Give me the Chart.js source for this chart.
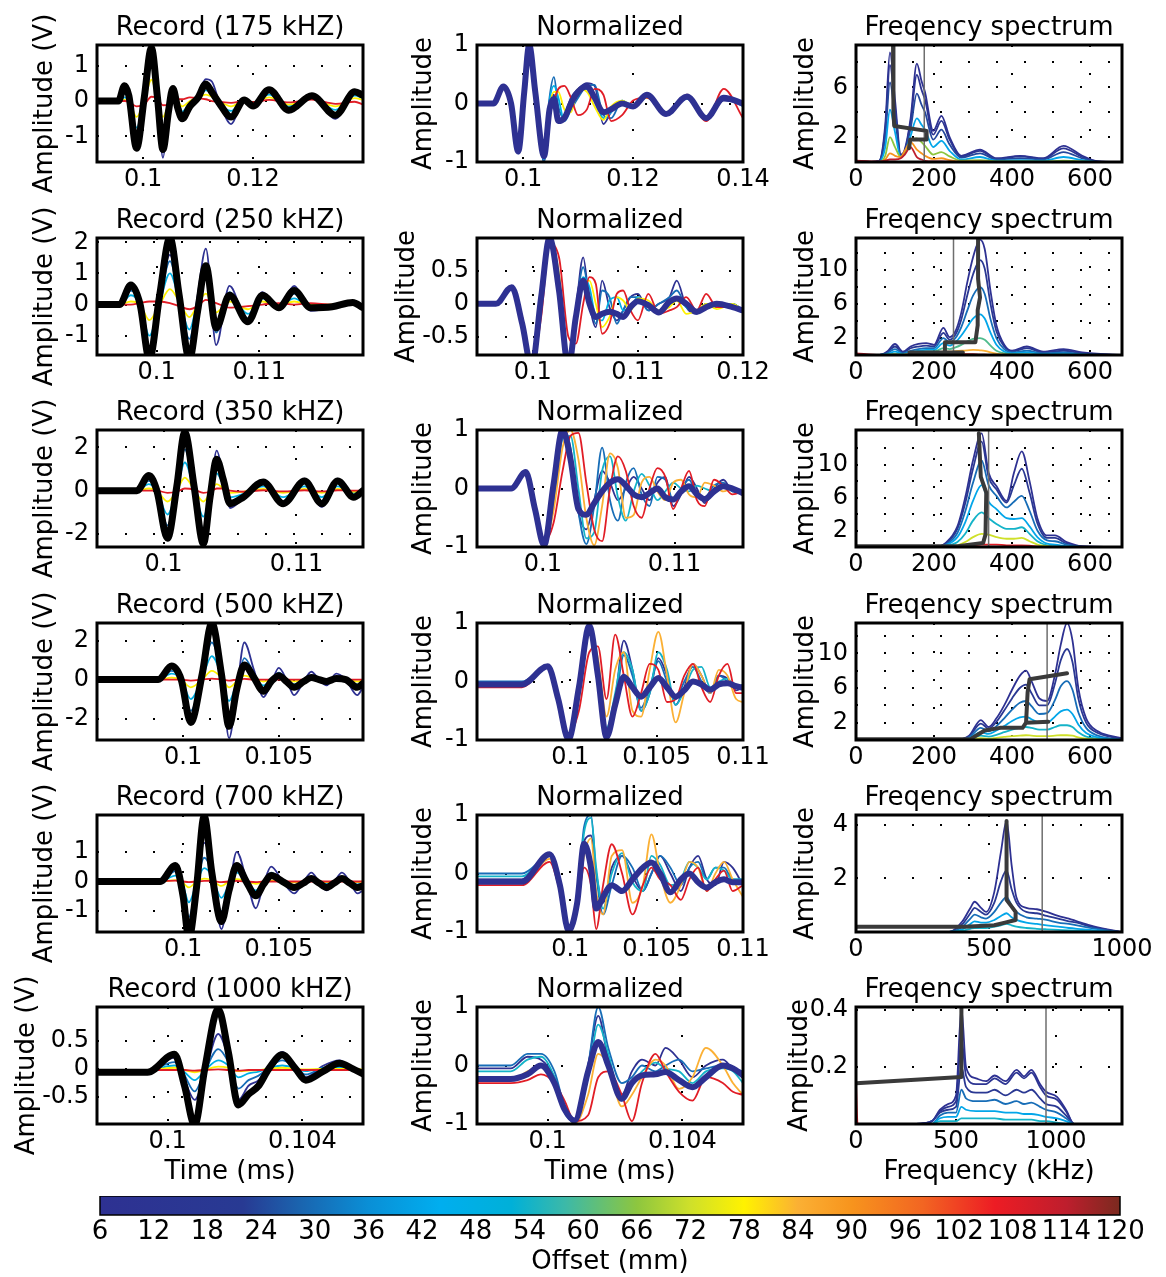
<!DOCTYPE html>
<html>
<head>
<meta charset="utf-8">
<script src="https://cdn.jsdelivr.net/npm/chart.js@4.4.0/dist/chart.umd.min.js"></script>
<style>
  body { margin: 0; background: #fff; }
  #fig { position: relative; width: 1166px; height: 1277px; overflow: hidden; background: #fff; }
  #fig canvas { position: absolute; }
</style>
</head>
<body>
<div id="fig"></div>
<script>
// ---------- data ----------
// offsets (mm) shown on the colour bar
const offsetTicks = [6, 12, 18, 24, 30, 36, 42, 48, 54, 60, 66, 72, 78, 84, 90, 96, 102, 108, 114, 120];
// nominal frequency marker in each spectrum (kHz)
const markerKHz = [175, 250, 340, 490, 700, 950];

// Row 1 : 175 kHz
const rec175_t = [0.0916,0.0955,0.0966,0.0974,0.0988,0.1002,0.1015,0.1026,0.1036,0.1046,0.1054,0.1063,0.1071,0.1085,0.1100,0.1114,0.1125,0.1138,0.1160,0.1184,0.1200,0.1229,0.1265,0.1307,0.1350,0.1385,0.1400];
const rec175_ref = [0,0,0.43,0.15,-1.33,0.1,1.5,0.1,-1.37,-0.3,0.35,-0.2,-0.5,-0.15,0.1,0.48,0.25,-0.05,-0.45,0.03,-0.14,0.32,-0.26,0.15,-0.4,0.26,0.16];
const rec175_6 = [0,0,0.4,0.15,-1.35,0.15,1.45,0.15,-1.6,-0.3,0.4,-0.1,-0.55,-0.1,0.2,0.62,0.55,0,-0.65,0.05,-0.15,0.35,-0.32,0.2,-0.5,0.3,0.12];
const rec175_30 = [0,0,0.2,0.05,-1.0,0.1,1.25,0.12,-1.1,-0.2,0.3,-0.05,-0.4,-0.08,0.15,0.45,0.35,-0.05,-0.4,0.05,-0.1,0.25,-0.22,0.12,-0.35,0.2,0.1];
const rec175_48 = [0,0,0.1,0,-0.75,0.05,1.0,0.1,-0.8,-0.15,0.2,0,-0.3,-0.05,0.1,0.3,0.25,-0.05,-0.28,0.03,-0.08,0.18,-0.15,0.1,-0.25,0.15,0.08];
const rec175_78 = [0,0,0.03,0,-0.45,0,0.6,0.05,-0.45,-0.1,0.1,0,-0.15,0,0.1,0.18,0.12,0,-0.15,0.02,-0.05,0.1,-0.1,0.06,-0.15,0.08,0.03];
const rec175_108 = [0,0,0,-0.02,-0.15,-0.1,0.12,0.08,-0.12,-0.1,0,0.05,0.05,0.1,0.08,0.05,0,-0.02,-0.05,0,-0.03,0.03,-0.04,0.04,-0.08,-0.02,-0.1];

const nrm175_t = [0.0916,0.0946,0.0964,0.0978,0.0991,0.1002,0.1011,0.1022,0.1038,0.1048,0.1056,0.1064,0.1075,0.1087,0.1100,0.1116,0.1130,0.1146,0.1160,0.1180,0.1200,0.1225,0.1260,0.1298,0.1333,0.1365,0.1400];
const nrm175_ref = [0,0,0.29,0,-0.82,0.2,1.0,0.2,-0.9,-0.1,0.08,-0.3,-0.25,0,0.2,0.29,0.1,-0.15,-0.1,0,-0.05,0.15,-0.18,0.12,-0.25,0.1,0];
const nrm175_6 = [0,0,0.28,0,-0.85,0.2,0.95,0.25,-1.0,0.05,0.15,-0.3,-0.2,0.1,0.25,0.35,0.3,-0.35,-0.15,0,-0.05,0.12,-0.15,0.1,-0.28,0.05,0];
const nrm175_30 = [0,0,0.27,0,-0.85,0.15,1.0,0.3,-1.0,0.1,0.45,-0.05,-0.25,-0.1,0.1,0.3,0.32,-0.2,-0.25,0.05,-0.08,0.12,-0.15,0.08,-0.25,0.1,-0.05];
const nrm175_48 = [0,0,0.27,0,-0.85,0.1,1.0,0.3,-0.95,0.05,0.3,0.1,-0.3,-0.1,0.15,0.25,0.1,-0.25,-0.15,0.05,-0.05,0.1,-0.15,0.1,-0.22,0.08,0];
const nrm175_78 = [0,0,0.26,0,-0.82,0.05,1.0,0.35,-0.9,-0.05,0.2,0.2,-0.1,-0.15,0.25,0.2,-0.05,-0.28,-0.05,0.05,-0.05,0.1,-0.15,0.12,-0.25,0.12,0];
const nrm175_108 = [0,0,0.25,0,-0.8,0,0.98,0.4,-0.8,-0.2,0.05,0.25,0.3,0.1,-0.2,-0.1,0.25,0.15,-0.3,-0.2,0.05,0.1,-0.2,0.15,-0.3,0.25,-0.25];

const spc175_f = [0,40,60,75,87,100,115,125,140,156,168,177,198,219,240,270,318,360,421,480,532,580,620,682];
const spc175_6 = [0.1,0,0.1,3,8.8,5,0.6,1.0,3.5,7.9,6.5,5.6,2.5,3.7,2.0,0.5,1.0,0.3,0.5,0.3,1.3,0.5,0.05,0];
const spc175_12 = [0,0,0.1,2.6,7.8,4.4,0.5,0.9,3.2,7.0,5.8,5.0,2.2,3.3,1.8,0.45,0.9,0.25,0.45,0.25,1.1,0.4,0.04,0];
const spc175_24 = [0,0,0.1,2.0,6.4,3.6,0.45,0.8,2.7,5.5,4.6,4.0,1.8,2.6,1.4,0.35,0.7,0.2,0.3,0.2,0.8,0.3,0.03,0];
const spc175_42 = [0,0,0.05,1.2,4.2,2.4,0.4,0.7,2.1,3.5,3.0,2.6,1.2,1.7,0.9,0.2,0.4,0.1,0.15,0.1,0.4,0.15,0,0];
const spc175_66 = [0,0,0,0.5,2.0,1.2,0.4,0.8,1.7,1.9,1.6,1.3,0.6,0.8,0.45,0.1,0.15,0.05,0.05,0.03,0.1,0.05,0,0];
const spc175_90 = [0,0,0,0.2,0.7,0.5,0.4,0.9,1.6,1.0,0.7,0.5,0.25,0.3,0.15,0.03,0.05,0,0,0,0,0,0,0];
const spc175_114 = [0.1,0.05,0.05,0.1,0.2,0.2,0.3,0.6,1.2,0.4,0.2,0.1,0.05,0.05,0.02,0,0,0,0,0,0,0,0,0];
const trace175_f = [95,95,97,98,181,181,139,136];
const trace175_v = [9.4,6,4,2.9,2.5,1.8,1.8,1.1];

// Row 2 : 250 kHz
const rec250_t = [0.0942,0.0964,0.0975,0.0984,0.0993,0.1003,0.1013,0.1022,0.1032,0.1040,0.1048,0.1058,0.1071,0.1089,0.1103,0.1119,0.1134,0.1150,0.1171,0.1191,0.1201];
const rec250_ref = [0,0,0.63,0,-1.75,0.3,2.15,0.3,-1.75,-0.2,1.25,-0.75,0.3,-0.55,0.3,-0.1,0.45,-0.1,-0.07,0.07,-0.1];
const rec250_6 = [0,0,0.6,0,-1.7,0.2,1.6,0.3,-1.4,0.3,1.8,-1.3,0.6,-0.6,0.4,-0.1,0.6,-0.2,-0.1,0.1,-0.1];
const rec250_30 = [0,0,0.45,0,-1.4,0.1,1.4,0.2,-1.1,0.2,1.2,-0.9,0.4,-0.45,0.25,-0.1,0.35,-0.15,-0.05,0.05,-0.05];
const rec250_48 = [0,0,0.3,0,-1.0,0.05,1.0,0.15,-0.8,0.1,0.8,-0.6,0.3,-0.3,0.2,-0.05,0.2,-0.1,-0.05,0.03,-0.05];
const rec250_78 = [0,0,0.1,0,-0.5,0,0.5,0.1,-0.4,0,0.35,-0.25,0.1,-0.15,0.1,0,0.1,0,0,0.02,0];
const rec250_108 = [0,0,0,0.05,0.1,0.1,0.05,-0.05,-0.15,-0.05,0.15,0.05,-0.1,-0.05,0,0.05,0,0.05,0,0,-0.02];

const nrm250_t = [0.0947,0.0965,0.0980,0.0990,0.0999,0.1008,0.1016,0.1025,0.1034,0.1041,0.1048,0.1054,0.1060,0.1066,0.1073,0.1080,0.1086,0.1093,0.1100,0.1110,0.1120,0.1130,0.1137,0.1146,0.1156,0.1165,0.1175,0.1190,0.1200];
const nrm250_ref = [0,0,0.25,-0.3,-0.95,0.1,0.99,0.2,-0.95,-0.2,0.35,0,-0.2,-0.15,-0.12,-0.15,-0.2,-0.05,0.04,-0.02,-0.13,0.03,0.08,0,-0.12,-0.05,0,-0.05,-0.1];
const nrm250_6 = [0,0,0.25,-0.3,-0.95,0.1,0.99,0.25,-0.95,-0.1,0.7,0,-0.35,0.35,-0.05,-0.25,-0.1,0.1,0.15,-0.1,0,0.1,0.35,-0.05,-0.15,0,-0.05,0,-0.1];
const nrm250_30 = [0,0,0.25,-0.3,-0.95,0.1,0.99,0.3,-0.95,-0.1,0.55,0.1,-0.3,0.2,0.1,-0.3,-0.1,0.1,0.1,-0.1,0,0.1,0.2,-0.05,-0.12,0,-0.05,0,-0.1];
const nrm250_48 = [0,0,0.25,-0.3,-0.95,0.05,0.99,0.35,-0.9,-0.25,0.4,0.25,-0.2,-0.25,0.05,0.1,-0.1,-0.05,0.1,-0.05,-0.1,0.05,0.1,-0.05,-0.1,0,-0.05,0,-0.1];
const nrm250_78 = [0,0,0.25,-0.3,-0.95,0,0.98,0.45,-0.85,-0.35,0.3,0.35,0,-0.35,-0.2,0.1,0.05,-0.1,0.08,0.05,-0.1,-0.05,0.05,-0.15,-0.1,0,-0.08,0,-0.1];
const nrm250_108 = [0,0,0.22,-0.2,-0.9,-0.2,0.9,0.7,-0.5,-0.6,0,0.4,0.3,-0.45,-0.3,0.15,0.2,-0.1,-0.25,0.15,-0.15,-0.1,-0.05,0.1,-0.1,0.15,-0.05,-0.05,-0.1];

const spc250_f = [0,60,80,100,120,140,160,180,200,224,240,255,270,285,300,318,330,345,360,380,400,438,480,532,580,682];
const spc250_6 = [0,0,0.4,1.3,0.4,1.0,1.3,1.4,1.2,3.2,2.1,2.8,5.0,8.5,11.5,13.6,12.5,7.5,3.5,1.2,0.5,1.0,0.4,0.7,0.3,0];
const spc250_18 = [0,0,0.3,1.0,0.3,0.8,1.0,1.1,1.0,2.6,1.8,2.4,4.2,7.0,9.5,11.2,10.2,6.0,2.8,1.0,0.4,0.8,0.3,0.5,0.2,0];
const spc250_30 = [0,0,0.2,0.7,0.2,0.5,0.7,0.8,0.8,2.0,1.5,2.0,3.3,5.2,7.0,8.0,7.2,4.2,2.0,0.7,0.3,0.5,0.2,0.3,0.1,0];
const spc250_42 = [0,0,0.1,0.4,0.1,0.3,0.5,0.6,0.6,1.4,1.1,1.5,2.3,3.3,4.3,4.8,4.3,2.6,1.2,0.4,0.2,0.3,0.1,0.15,0.05,0];
const spc250_60 = [0,0,0.05,0.15,0.05,0.2,0.3,0.4,0.4,0.8,0.7,0.9,1.2,1.6,1.9,2.0,1.8,1.1,0.5,0.2,0.1,0.1,0,0.05,0,0];
const spc250_84 = [0,0,0,0.05,0,0.1,0.2,0.3,0.3,0.4,0.4,0.45,0.5,0.55,0.6,0.55,0.5,0.3,0.15,0.05,0,0,0,0,0,0];
const spc250_114 = [0.2,0,0,0,0,0.05,0.1,0.15,0.2,0.25,0.25,0.2,0.15,0.1,0.1,0.05,0.05,0,0,0,0,0,0,0,0,0];
const trace250_f = [313,313,318,312,312,306,228,228,137,274];
const trace250_v = [13.8,9,6.8,5.3,3.5,1.5,1.5,0.3,0.3,0.3];

// Row 3 : 350 kHz
const rec350_t = [0.0950,0.0980,0.0989,0.0995,0.1003,0.1010,0.1016,0.1023,0.1030,0.1035,0.1040,0.1045,0.1050,0.1060,0.1075,0.1090,0.1106,0.1119,0.1131,0.1143,0.1150];
const rec350_ref = [0,0,0.7,0,-2.2,0.2,2.7,0.2,-2.45,-0.3,1.45,0.5,-0.6,-0.3,0.4,-0.6,0.45,-0.6,0.45,-0.3,0];
const rec350_6 = [0,0,0.65,0,-2.1,0.2,2.5,0.2,-2.7,-0.4,1.85,0.6,-0.8,-0.35,0.45,-0.7,0.55,-0.75,0.55,-0.3,0];
const rec350_30 = [0,0,0.45,0,-1.6,0.1,1.9,0.15,-1.8,-0.3,1.2,0.4,-0.5,-0.25,0.3,-0.5,0.35,-0.5,0.35,-0.2,0];
const rec350_48 = [0,0,0.3,0,-1.1,0.05,1.3,0.1,-1.2,-0.2,0.8,0.25,-0.3,-0.15,0.2,-0.3,0.2,-0.3,0.2,-0.1,0];
const rec350_78 = [0,0,0.1,0,-0.5,0,0.6,0.05,-0.5,-0.1,0.3,0.1,-0.1,-0.05,0.08,-0.1,0.08,-0.1,0.08,-0.05,0];
const rec350_108 = [0,0,0,0,-0.1,-0.05,0.1,0.05,-0.1,-0.05,0.1,0.1,0,-0.05,0.02,-0.03,0.02,-0.03,0.02,0,0];

const nrm350_t = [0.0950,0.0976,0.0987,0.0994,0.1001,0.1008,0.1015,0.1021,0.1027,0.1033,0.1039,0.1045,0.1051,0.1057,0.1063,0.1069,0.1075,0.1081,0.1087,0.1093,0.1099,0.1105,0.1111,0.1117,0.1123,0.1130,0.1137,0.1144,0.1152];
const nrm350_ref = [0,0,0.28,-0.35,-0.97,0.05,1.0,0.5,-0.35,-0.45,-0.25,-0.05,0.1,0.16,0.05,-0.1,-0.15,-0.08,0,-0.15,-0.19,-0.05,0.04,-0.1,-0.18,-0.05,0.04,0,-0.08];
const nrm350_6 = [0,0,0.28,-0.35,-0.97,0.05,1.0,0.55,-0.4,-0.7,-0.2,0.3,0.1,-0.2,0,0.2,0,-0.2,0.1,0.2,-0.3,-0.1,0.2,0,-0.25,0,0.15,-0.05,-0.08];
const nrm350_30 = [0,0,0.28,-0.35,-0.97,-0.05,0.98,0.7,-0.4,-0.95,-0.3,0.7,-0.2,-0.55,0.1,0.35,-0.1,-0.3,0.2,0.15,-0.2,0,0.15,-0.1,-0.15,0.05,0.1,-0.05,-0.05];
const nrm350_54 = [0,0,0.28,-0.33,-0.95,-0.25,0.85,0.9,0,-0.85,-0.75,0.3,0.55,-0.15,-0.55,-0.05,0.25,0.05,-0.2,-0.05,0.1,0,-0.05,0.05,0,-0.05,0.05,0,-0.05];
const nrm350_84 = [0,0,0.27,-0.3,-0.93,-0.4,0.7,1.0,0.5,-0.5,-0.97,-0.3,0.6,0.35,-0.5,-0.45,0.1,0.2,-0.05,-0.2,0.1,0.15,-0.1,-0.15,0.1,0.05,-0.05,0,-0.05];
const nrm350_108 = [0,0,0.25,-0.25,-0.9,-0.6,0.3,0.9,0.95,0.1,-0.7,-0.9,0,0.55,0.3,-0.3,-0.5,0,0.35,0.2,-0.35,0,0.3,-0.2,-0.3,0.15,0.05,-0.1,-0.05];

const spc350_f = [0,200,230,260,280,300,322,340,360,386,405,425,445,465,490,510,540,580,682];
const spc350_6 = [0,0,0.5,2.5,6.0,10.5,13.8,9.0,7.4,5.6,9.0,11.6,8.0,3.5,1.4,1.4,0.6,0.1,0];
const spc350_18 = [0,0,0.4,2.2,5.3,9.5,12.8,8.5,7.0,5.4,7.5,9.5,6.6,2.9,1.1,1.1,0.4,0.05,0];
const spc350_30 = [0,0,0.3,1.7,4.3,7.8,10.5,7.5,6.2,4.8,5.5,6.2,4.4,2.0,0.8,0.7,0.3,0,0];
const spc350_42 = [0,0,0.2,1.2,3.0,5.6,7.5,5.5,4.6,3.5,3.4,3.5,2.5,1.2,0.4,0.3,0.1,0,0];
const spc350_54 = [0,0,0.1,0.6,1.6,3.2,4.2,3.5,2.8,2.2,2.2,2.4,1.6,0.7,0.2,0.1,0,0,0];
const spc350_72 = [0,0,0.05,0.2,0.6,1.2,1.6,1.5,1.2,1.0,1.0,1.1,0.7,0.3,0.1,0,0,0,0];
const spc350_108 = [0,0,0,0.05,0.1,0.2,0.3,0.3,0.3,0.2,0.2,0.2,0.15,0.05,0,0,0,0,0];
const trace350_f = [0,261,326,332,334,320,315];
const trace350_v = [0.1,0.1,0.5,1.5,6.6,8.5,13.8];

// Row 4 : 500 kHz
const rec500_t = [0.0955,0.0987,0.0994,0.0999,0.1004,0.1010,0.1015,0.1020,0.1024,0.1028,0.1032,0.1037,0.1042,0.1046,0.1050,0.1054,0.1058,0.1063,0.1067,0.1071,0.1075,0.1080,0.1085,0.1091,0.1094];
const rec500_ref = [0,0,0.69,0,-2.2,0.3,2.9,0.3,-2.4,-0.5,0.75,0.1,-0.6,-0.1,0.2,-0.1,-0.4,-0.1,0.1,0,-0.1,0.05,0,-0.4,-0.2];
const rec500_6 = [0,0,0.6,0,-2.1,0.3,2.5,0.5,-3.0,-0.6,1.9,0.5,-0.9,-0.2,0.6,0,-0.8,-0.1,0.4,0,-0.3,0.3,0,-0.8,-0.4];
const rec500_30 = [0,0,0.45,0,-1.6,0.2,1.9,0.35,-1.9,-0.4,1.1,0.3,-0.6,-0.1,0.35,0,-0.5,-0.05,0.2,0,-0.2,0.15,0,-0.45,-0.2];
const rec500_48 = [0,0,0.3,0,-1.0,0.1,1.2,0.2,-1.1,-0.2,0.6,0.15,-0.3,-0.05,0.2,0,-0.25,0,0.1,0,-0.1,0.08,0,-0.25,-0.1];
const rec500_78 = [0,0,0.1,0,-0.4,0,0.45,0.1,-0.4,-0.1,0.2,0.05,-0.1,0,0.05,0,-0.1,0,0.05,0,-0.05,0.03,0,-0.1,-0.05];
const rec500_108 = [0,0,0,0,-0.05,0,0.05,0,-0.05,0,0.03,0,0,0,0,0,0,0,0,0,0,0,0,0,0];

const nrm500_t = [0.0946,0.0972,0.0987,0.0993,0.0999,0.1005,0.1011,0.1016,0.1021,0.1026,0.1031,0.1036,0.1041,0.1046,0.1051,0.1056,0.1061,0.1066,0.1071,0.1076,0.1081,0.1086,0.1091,0.1096,0.1100];
const nrm500_ref = [-0.05,-0.05,0.26,-0.3,-0.99,-0.1,0.95,0.1,-0.95,-0.4,0.08,-0.1,-0.26,-0.1,0.06,-0.1,-0.26,-0.15,0,-0.05,-0.14,-0.05,-0.03,-0.08,-0.11];
const nrm500_6 = [-0.02,-0.02,0.26,-0.3,-0.99,-0.1,0.97,0.2,-0.95,-0.3,0.7,0.2,-0.5,-0.2,0.4,0.1,-0.4,-0.1,0.3,0.1,-0.2,0.1,0.05,-0.15,-0.1];
const nrm500_30 = [0,0,0.26,-0.3,-0.99,-0.1,1.0,0.1,-1.0,-0.4,0.45,0.1,-0.45,-0.1,0.35,0,-0.3,0,0.25,0,-0.2,0.1,0,-0.1,-0.05];
const nrm500_54 = [-0.03,-0.03,0.26,-0.3,-0.99,-0.2,0.95,0.3,-0.8,-0.2,0.5,0.2,-0.5,-0.2,0.5,0.2,-0.4,-0.15,0.2,0.25,-0.1,0,0.05,-0.1,-0.1];
const nrm500_84 = [-0.05,-0.05,0.26,-0.3,-0.99,-0.3,0.8,0.4,-0.6,0.2,0.5,-0.5,-0.6,0.2,0.85,0.1,-0.7,-0.2,0.3,0.1,-0.2,0.2,0.1,-0.3,-0.35];
const nrm500_108 = [-0.1,-0.1,0.25,-0.3,-0.9,-0.5,0.5,0.6,-0.3,0.8,0.1,-0.6,-0.2,0.3,0.2,-0.35,-0.3,0.1,0.3,-0.1,-0.35,0.1,0.3,-0.2,-0.2];

const spc500_f = [0,250,290,320,340,360,380,400,420,436,450,470,490,510,525,541,555,570,590,620,650,682];
const spc500_6 = [0,0,0.5,2.3,1.5,2.5,4.0,5.8,7.4,8.0,6.8,4.8,4.5,7.5,11.0,13.5,11.5,6.0,2.5,1.0,0.5,0.2];
const spc500_18 = [0,0,0.4,1.9,1.3,2.1,3.4,4.8,6.0,6.4,5.4,4.0,4.0,6.5,9.2,10.5,9.0,4.8,2.0,0.8,0.4,0.1];
const spc500_30 = [0,0,0.3,1.4,1.0,1.6,2.5,3.5,4.3,4.5,3.9,3.0,3.1,4.6,6.2,6.8,5.8,3.2,1.4,0.5,0.2,0.05];
const spc500_42 = [0,0,0.2,0.9,0.7,1.1,1.6,2.2,2.6,2.7,2.4,2.0,2.0,2.7,3.3,3.5,3.0,1.8,0.8,0.3,0.1,0];
const spc500_54 = [0,0,0.1,0.5,0.4,0.6,0.9,1.2,1.4,1.5,1.4,1.2,1.2,1.5,1.7,1.7,1.5,0.9,0.4,0.15,0.05,0];
const spc500_72 = [0,0,0.05,0.2,0.15,0.25,0.35,0.45,0.5,0.55,0.5,0.45,0.45,0.5,0.55,0.55,0.5,0.3,0.15,0.05,0,0];
const spc500_108 = [0,0,0,0,0,0,0,0,0,0,0,0,0,0,0,0,0,0,0,0,0,0];
const trace500_f = [0,293,330,369,427,436,493,436,440,445,541];
const trace500_v = [0.1,0.1,1.1,1.4,1.4,2.0,2.1,2.0,5.5,7.0,7.7];

// Row 5 : 700 kHz
const rec700_t = [0.0955,0.0988,0.0996,0.1000,0.1003,0.1007,0.1011,0.1015,0.1020,0.1024,0.1028,0.1033,0.1038,0.1042,0.1046,0.1052,0.1058,0.1063,0.1067,0.1071,0.1075,0.1079,0.1083,0.1087,0.1091,0.1094];
const rec700_ref = [0,0,0.54,-0.5,-1.9,-0.2,2.2,0.3,-1.35,-0.3,0.54,0,-0.48,-0.1,0.2,0,-0.2,-0.05,0.1,-0.05,-0.2,-0.05,0.1,-0.05,-0.2,-0.15];
const rec700_6 = [0,0,0.5,-0.4,-1.7,-0.2,1.3,0.5,-1.6,-0.3,1.0,0.1,-0.9,-0.1,0.5,0,-0.4,0,0.3,0,-0.3,0,0.3,0,-0.4,-0.3];
const rec700_30 = [0,0,0.35,-0.3,-1.2,-0.1,0.8,0.35,-1.0,-0.2,0.6,0.05,-0.55,-0.05,0.3,0,-0.25,0,0.15,0,-0.15,0,0.15,0,-0.2,-0.15];
const rec700_48 = [0,0,0.2,-0.15,-0.7,-0.05,0.45,0.2,-0.55,-0.1,0.3,0.02,-0.3,0,0.15,0,-0.12,0,0.08,0,-0.08,0,0.05,0,-0.1,-0.05];
const rec700_78 = [0,0,0.05,-0.05,-0.2,0,0.1,0.05,-0.15,0,0.08,0,-0.08,0,0.03,0,-0.03,0,0.02,0,-0.02,0,0.01,0,-0.02,0];
const rec700_108 = [0.02,0.02,0.03,0,-0.02,0,0.02,0.02,-0.02,0,0.02,0,-0.02,0,0,0,0,0,0,0,0,0,0,0,0,0];

const nrm700_t = [0.0946,0.0972,0.0988,0.0994,0.0999,0.1004,0.1008,0.1012,0.1015,0.1019,0.1024,0.1030,0.1036,0.1042,0.1047,0.1052,0.1058,0.1064,0.1069,0.1074,0.1079,0.1084,0.1089,0.1094,0.1100];
const nrm700_ref = [-0.14,-0.14,0.33,-0.2,-0.98,-0.5,0.51,0.1,-0.6,-0.4,-0.2,-0.3,-0.1,0.1,0.19,0,-0.32,-0.1,0,-0.15,-0.24,-0.15,-0.1,-0.15,-0.15];
const nrm700_6 = [-0.1,-0.1,0.3,-0.2,-0.98,-0.5,0.55,0.65,0,-0.5,0.1,0.3,-0.05,-0.3,0,0.3,0,-0.3,0.1,0.3,-0.1,-0.2,0.2,0.1,-0.2];
const nrm700_30 = [0,0,0.3,-0.2,-1.0,-0.5,0.8,1.0,0,-0.7,-0.2,0.3,0.1,-0.3,0,0.3,0.1,-0.2,0.1,0.2,-0.1,0.1,0.1,-0.1,-0.1];
const nrm700_54 = [-0.05,-0.05,0.3,-0.2,-0.98,-0.5,0.7,0.95,0.1,-0.6,0,0.35,-0.15,-0.3,0.3,0.15,-0.2,-0.1,0.2,0.1,-0.1,0.1,0.05,-0.1,-0.1];
const nrm700_84 = [-0.15,-0.15,0.25,-0.25,-0.95,-0.6,0.3,0.6,-0.3,-0.7,0.3,0.4,-0.5,-0.2,0.67,0,-0.5,-0.2,0.2,0.1,-0.3,0,0.2,-0.1,-0.4];
const nrm700_108 = [-0.2,-0.2,0.2,-0.3,-0.9,-0.6,0.1,-0.2,-0.95,-0.2,0.5,0,-0.7,-0.2,0.1,-0.1,-0.2,-0.45,-0.1,0.1,-0.3,-0.1,0.05,-0.3,-0.2];

const spc700_f = [0,350,400,430,446,470,489,520,545,566,585,603,640,680,717,760,800,831,880,945,1000];
const spc700_6 = [0,0,0.4,0.9,1.13,0.9,0.75,1.5,3.0,4.15,2.5,1.3,0.9,0.85,0.75,0.6,0.5,0.4,0.25,0.1,0];
const spc700_18 = [0,0,0.3,0.7,0.9,0.75,0.65,1.1,1.9,2.3,1.6,1.1,0.75,0.7,0.6,0.5,0.4,0.35,0.2,0.08,0];
const spc700_30 = [0,0,0.2,0.5,0.65,0.55,0.5,0.75,1.1,1.3,1.0,0.75,0.55,0.5,0.45,0.35,0.3,0.25,0.15,0.05,0];
const spc700_42 = [0,0,0.1,0.3,0.4,0.35,0.35,0.45,0.6,0.7,0.55,0.45,0.35,0.3,0.25,0.2,0.15,0.12,0.08,0.02,0];
const spc700_54 = [0,0,0.05,0.12,0.15,0.15,0.15,0.2,0.25,0.3,0.25,0.2,0.15,0.12,0.1,0.08,0.06,0.05,0.03,0,0];
const spc700_108 = [0,0,0,0,0,0,0,0,0,0,0,0,0,0,0,0,0,0,0,0,0];
const trace700_f = [0,410,520,560,600,600,566,566];
const trace700_v = [0.2,0.2,0.25,0.35,0.45,0.75,1.2,4.15];

// Row 6 : 1000 kHz
const rec1000_t = [0.0979,0.0994,0.1002,0.1005,0.1008,0.1011,0.1015,0.1018,0.1021,0.1024,0.1027,0.1030,0.1034,0.1038,0.1041,0.1046,0.1051,0.1055,0.1058];
const rec1000_ref = [-0.06,-0.06,0.26,-0.3,-1.0,0,1.06,0.3,-0.64,-0.45,-0.3,0,0.25,0,-0.2,-0.05,0.1,0,-0.09];
const rec1000_6 = [-0.05,-0.05,0.2,-0.2,-0.55,-0.1,0.62,0.2,-0.55,-0.3,-0.2,0.05,0.3,0.05,-0.15,0.05,0.15,0,-0.08];
const rec1000_30 = [-0.03,-0.03,0.12,-0.12,-0.4,-0.05,0.35,0.12,-0.35,-0.2,-0.12,0.02,0.15,0.02,-0.1,0.02,0.05,0,-0.05];
const rec1000_48 = [-0.02,-0.02,0.06,-0.06,-0.2,-0.03,0.15,0.06,-0.15,-0.08,-0.05,0.01,0.06,0.01,-0.04,0.01,0.02,0,-0.02];
const rec1000_78 = [-0.02,-0.02,0.02,-0.02,-0.06,-0.02,0.04,0.02,-0.04,-0.03,-0.02,0,0.02,0,-0.01,0,0,0,-0.01];
const rec1000_108 = [-0.02,-0.02,-0.02,-0.02,-0.03,-0.02,-0.01,-0.02,-0.03,-0.02,-0.02,-0.02,-0.02,-0.02,-0.02,-0.02,-0.02,-0.02,-0.02];

const nrm1000_t = [0.0979,0.0989,0.0994,0.0998,0.1002,0.1005,0.1008,0.1012,0.1015,0.1018,0.1022,0.1025,0.1028,0.1032,0.1035,0.1039,0.1043,0.1047,0.1052,0.1055,0.1058];
const nrm1000_ref = [-0.23,-0.23,-0.15,0,-0.3,-0.75,-0.94,-0.1,0.4,0,-0.57,-0.3,-0.17,-0.15,-0.11,-0.25,-0.37,-0.2,0,-0.05,-0.17];
const nrm1000_6 = [-0.05,-0.05,0.15,0.1,-0.2,-0.7,-0.95,0,0.85,0.1,-0.5,-0.1,0.1,0,0.3,0.1,-0.2,0,0.1,-0.05,-0.1];
const nrm1000_30 = [0,0,0.2,0.2,-0.1,-0.7,-1.0,0,1.0,0.3,-0.3,-0.2,0,-0.1,0,0.1,-0.1,-0.05,0,-0.05,-0.1];
const nrm1000_54 = [-0.1,-0.1,0.1,0.15,-0.2,-0.8,-0.95,-0.2,0.7,0.2,-0.6,-0.3,-0.1,0.05,-0.05,-0.1,-0.3,-0.1,-0.05,-0.1,-0.3];
const nrm1000_84 = [-0.25,-0.25,-0.1,0,-0.3,-0.7,-1.0,-0.5,0.2,0,-0.7,-0.5,-0.2,0.1,0,-0.4,-0.2,0.3,0,-0.3,-0.5];
const nrm1000_108 = [-0.3,-0.3,-0.25,-0.15,-0.3,-0.6,-0.95,-0.85,-0.2,-0.1,-0.5,-0.95,-0.3,0.2,-0.1,-0.45,-0.6,-0.2,-0.3,-0.45,-0.5];

const spc1000_f = [0,8,300,380,420,460,500,527,550,600,650,693,748,803,840,877,920,950,1005,1050,1090,1330];
const spc1000_6 = [0,0,0,0.01,0.05,0.07,0.1,0.406,0.2,0.16,0.15,0.17,0.15,0.19,0.167,0.19,0.14,0.113,0.095,0.05,0,0];
const spc1000_12 = [0,0,0,0.01,0.045,0.06,0.08,0.3,0.17,0.14,0.14,0.16,0.14,0.18,0.16,0.18,0.13,0.1,0.085,0.045,0,0];
const spc1000_18 = [0,0,0,0.01,0.04,0.05,0.06,0.2,0.13,0.11,0.11,0.12,0.1,0.12,0.11,0.12,0.09,0.07,0.06,0.03,0,0];
const spc1000_30 = [0,0,0,0,0.03,0.04,0.04,0.12,0.09,0.08,0.08,0.085,0.07,0.08,0.07,0.075,0.06,0.05,0.04,0.02,0,0];
const spc1000_42 = [0,0,0,0,0.02,0.025,0.025,0.06,0.05,0.045,0.045,0.045,0.04,0.04,0.035,0.035,0.03,0.025,0.02,0.01,0,0];
const spc1000_54 = [0,0,0,0,0.01,0.01,0.01,0.02,0.02,0.02,0.02,0.02,0.015,0.015,0.015,0.015,0.01,0.01,0.005,0,0,0];
const spc1000_108 = [0.14,0,0,0,0,0,0,0,0,0,0,0,0,0,0,0,0,0,0,0,0,0];
const trace1000_f = [0,527,527];
const trace1000_v = [0.143,0.165,0.406];

// ---------- style ----------
const FONT = "'DejaVu Sans', 'Liberation Sans', sans-serif";
Chart.defaults.font.family = FONT;
Chart.defaults.color = '#000';

// colour map of the offset colour bar
const cmapStops = [
  [6, '#2e3192'], [22, '#283a93'], [28, '#1b62ad'], [36, '#0a8fd6'], [44, '#00aeef'],
  [52, '#00b0d8'], [58, '#3cb9a8'], [66, '#8dc63f'], [72, '#cfe02a'], [78, '#fff200'],
  [84, '#fbb034'], [90, '#f7941d'], [98, '#f26522'], [106, '#ed1c24'], [114, '#be1e2d'], [120, '#7b2a1f']
];
function hexRgb(h) { return [1, 3, 5].map(i => parseInt(h.substr(i, 2), 16)); }
function offsetColor(mm) {
  for (let i = 1; i < cmapStops.length; i++) {
    if (mm <= cmapStops[i][0]) {
      const [m0, c0] = cmapStops[i - 1], [m1, c1] = cmapStops[i];
      const f = (mm - m0) / (m1 - m0);
      const a = hexRgb(c0), b = hexRgb(c1);
      return 'rgb(' + a.map((v, k) => Math.round(v + (b[k] - v) * f)).join(',') + ')';
    }
  }
  return cmapStops[cmapStops.length - 1][1];
}

const colLeft = [97, 477, 856];
const rowTop = [45, 238, 430, 623, 815, 1007];
const plotW = 266, plotH = 117;
const LPAD = 100, TPAD = 45, RPAD = 40;

const panels = [
  { row:0, col:0, kind:'rec', title:'Record (175 kHZ)', yTitle:'Amplitude (V)', yOff:52, x:[0.0916,0.14], y:[-1.72,1.58], xTicks:[0.1,0.12], yTicks:[-1,0,1],
    xs:rec175_t, main:rec175_ref, lines:[[6,rec175_6],[30,rec175_30],[48,rec175_48],[78,rec175_78],[108,rec175_108]] },
  { row:0, col:1, kind:'nrm', title:'Normalized', yTitle:'Amplitude', yOff:53, x:[0.0916,0.14], y:[-1,1], xTicks:[0.1,0.12,0.14], yTicks:[-1,0,1],
    xs:nrm175_t, main:nrm175_ref, lines:[[6,nrm175_6],[30,nrm175_30],[48,nrm175_48],[78,nrm175_78],[108,nrm175_108]] },
  { row:0, col:2, kind:'spc', title:'Freqency spectrum', yTitle:'Amplitude', yOff:50, x:[0,682], y:[0,9.4], xTicks:[0,200,400,600], yTicks:[2,4,6,8], yLab:[2,6],
    xs:spc175_f, traceF:trace175_f, traceV:trace175_v, marker:markerKHz[0],
    lines:[[6,spc175_6],[12,spc175_12],[24,spc175_24],[42,spc175_42],[66,spc175_66],[90,spc175_90],[114,spc175_114]] },

  { row:1, col:0, kind:'rec', title:'Record (250 kHZ)', yTitle:'Amplitude (V)', yOff:52, x:[0.0942,0.1201], y:[-1.62,2.14], xTicks:[0.1,0.11], yTicks:[-1,0,1,2],
    xs:rec250_t, main:rec250_ref, lines:[[6,rec250_6],[30,rec250_30],[48,rec250_48],[78,rec250_78],[108,rec250_108]] },
  { row:1, col:1, kind:'nrm', title:'Normalized', yTitle:'Amplitude', yOff:70, x:[0.0947,0.12], y:[-0.77,0.99], xTicks:[0.1,0.11,0.12], yTicks:[-0.5,0,0.5],
    xs:nrm250_t, main:nrm250_ref, lines:[[6,nrm250_6],[30,nrm250_30],[48,nrm250_48],[78,nrm250_78],[108,nrm250_108]] },
  { row:1, col:2, kind:'spc', title:'Freqency spectrum', yTitle:'Amplitude', yOff:50, x:[0,682], y:[0,13.8], xTicks:[0,200,400,600], yTicks:[2,4,6,8,10,12], yLab:[2,6,10],
    xs:spc250_f, traceF:trace250_f, traceV:trace250_v, marker:markerKHz[1],
    lines:[[6,spc250_6],[18,spc250_18],[30,spc250_30],[42,spc250_42],[60,spc250_60],[84,spc250_84],[114,spc250_114]] },

  { row:2, col:0, kind:'rec', title:'Record (350 kHZ)', yTitle:'Amplitude (V)', yOff:52, x:[0.095,0.115], y:[-2.6,2.8], xTicks:[0.1,0.11], yTicks:[-2,0,2],
    xs:rec350_t, main:rec350_ref, lines:[[6,rec350_6],[30,rec350_30],[48,rec350_48],[78,rec350_78],[108,rec350_108]] },
  { row:2, col:1, kind:'nrm', title:'Normalized', yTitle:'Amplitude', yOff:53, x:[0.095,0.1152], y:[-1,1], xTicks:[0.1,0.11], yTicks:[-1,0,1],
    xs:nrm350_t, main:nrm350_ref, lines:[[6,nrm350_6],[30,nrm350_30],[54,nrm350_54],[84,nrm350_84],[108,nrm350_108]] },
  { row:2, col:2, kind:'spc', title:'Freqency spectrum', yTitle:'Amplitude', yOff:50, x:[0,682], y:[0,14.2], xTicks:[0,200,400,600], yTicks:[2,4,6,8,10,12], yLab:[2,6,10],
    xs:spc350_f, traceF:trace350_f, traceV:trace350_v, marker:markerKHz[2],
    lines:[[6,spc350_6],[18,spc350_18],[30,spc350_30],[42,spc350_42],[54,spc350_54],[72,spc350_72],[108,spc350_108]] },

  { row:3, col:0, kind:'rec', title:'Record (500 kHZ)', yTitle:'Amplitude (V)', yOff:52, x:[0.0955,0.1094], y:[-3.1,2.9], xTicks:[0.1,0.105], yTicks:[-2,0,2],
    xs:rec500_t, main:rec500_ref, lines:[[6,rec500_6],[30,rec500_30],[48,rec500_48],[78,rec500_78],[108,rec500_108]] },
  { row:3, col:1, kind:'nrm', title:'Normalized', yTitle:'Amplitude', yOff:53, x:[0.0946,0.11], y:[-1,1], xTicks:[0.1,0.105,0.11], yTicks:[-1,0,1],
    xs:nrm500_t, main:nrm500_ref, lines:[[6,nrm500_6],[30,nrm500_30],[54,nrm500_54],[84,nrm500_84],[108,nrm500_108]] },
  { row:3, col:2, kind:'spc', title:'Freqency spectrum', yTitle:'Amplitude', yOff:50, x:[0,682], y:[0,13.5], xTicks:[0,200,400,600], yTicks:[2,4,6,8,10,12], yLab:[2,6,10],
    xs:spc500_f, traceF:trace500_f, traceV:trace500_v, marker:markerKHz[3],
    lines:[[6,spc500_6],[18,spc500_18],[30,spc500_30],[42,spc500_42],[54,spc500_54],[72,spc500_72],[108,spc500_108]] },

  { row:4, col:0, kind:'rec', title:'Record (700 kHZ)', yTitle:'Amplitude (V)', yOff:52, x:[0.0955,0.1094], y:[-1.7,2.24], xTicks:[0.1,0.105], yTicks:[-1,0,1],
    xs:rec700_t, main:rec700_ref, lines:[[6,rec700_6],[30,rec700_30],[48,rec700_48],[78,rec700_78],[108,rec700_108]] },
  { row:4, col:1, kind:'nrm', title:'Normalized', yTitle:'Amplitude', yOff:53, x:[0.0946,0.11], y:[-1,1], xTicks:[0.1,0.105,0.11], yTicks:[-1,0,1],
    xs:nrm700_t, main:nrm700_ref, lines:[[6,nrm700_6],[30,nrm700_30],[54,nrm700_54],[84,nrm700_84],[108,nrm700_108]] },
  { row:4, col:2, kind:'spc', title:'Freqency spectrum', yTitle:'Amplitude', yOff:50, x:[0,1000], y:[0,4.37], xTicks:[0,500,1000], yTicks:[2,4], yLab:[2,4],
    xs:spc700_f, traceF:trace700_f, traceV:trace700_v, marker:markerKHz[4],
    lines:[[6,spc700_6],[18,spc700_18],[30,spc700_30],[42,spc700_42],[54,spc700_54],[108,spc700_108]] },

  { row:5, col:0, kind:'rec', title:'Record (1000 kHZ)', yTitle:'Amplitude (V)', yOff:70, x:[0.0979,0.1058], y:[-0.98,1.1], xTicks:[0.1,0.104], yTicks:[-0.5,0,0.5],
    xTitle:'Time (ms)', xs:rec1000_t, main:rec1000_ref, lines:[[6,rec1000_6],[30,rec1000_30],[48,rec1000_48],[78,rec1000_78],[108,rec1000_108]] },
  { row:5, col:1, kind:'nrm', title:'Normalized', yTitle:'Amplitude', yOff:53, x:[0.0979,0.1058], y:[-1,1], xTicks:[0.1,0.104], yTicks:[-1,0,1],
    xTitle:'Time (ms)', xs:nrm1000_t, main:nrm1000_ref, lines:[[6,nrm1000_6],[30,nrm1000_30],[54,nrm1000_54],[84,nrm1000_84],[108,nrm1000_108]] },
  { row:5, col:2, kind:'spc', title:'Freqency spectrum', yTitle:'Amplitude', yOff:56, x:[0,1330], y:[0,0.41], xTicks:[0,500,1000], yTicks:[0.2,0.4], yLab:[0.2,0.4],
    xTitle:'Frequency (kHz)', xs:spc1000_f, traceF:trace1000_f, traceV:trace1000_v, marker:markerKHz[5],
    lines:[[6,spc1000_6],[12,spc1000_12],[18,spc1000_18],[30,spc1000_30],[42,spc1000_42],[54,spc1000_54],[108,spc1000_108]] }
];

// ---------- drawing ----------
const boxPlugin = {
  id: 'box',
  afterDraw(chart, args, opts) {
    const a = chart.chartArea, c = chart.ctx;
    c.save();
    c.strokeStyle = '#000';
    c.lineWidth = opts.width || 3;
    c.strokeRect(a.left, a.top, a.right - a.left, a.bottom - a.top);
    c.restore();
  }
};

function line(xs, ys, color, width, smooth) {
  return {
    data: xs.map((x, i) => ({ x: x, y: ys[i] })),
    borderColor: color, borderWidth: width, pointRadius: 0, fill: false, clip: 0,
    cubicInterpolationMode: smooth ? 'monotone' : 'default', tension: 0,
    borderCapStyle: 'round', borderJoinStyle: 'round'
  };
}

function buildDatasets(p) {
  const ds = [];
  if (p.kind === 'spc') {
    ds.push(line(p.traceF, p.traceV, '#3a3a3a', 4, false));
    ds.push(line([p.marker, p.marker], [p.y[0], p.y[1]], '#6e6e6e', 1.5, false));
  } else if (p.kind === 'rec') {
    ds.push(line(p.xs, p.main, '#000', 7, true));
  } else {
    ds.push(line(p.xs, p.main, '#2e3192', 6, true));
  }
  // later offsets sit on top, like the original plotting order
  p.lines.slice().reverse().forEach(([mm, ys]) => ds.push(line(p.xs, ys, offsetColor(mm), 1.8, true)));
  return ds;
}

const fig = document.getElementById('fig');

function makePanel(p) {
  const B = p.xTitle ? 75 : 40;
  const cv = document.createElement('canvas');
  cv.width = LPAD + plotW + RPAD;
  cv.height = TPAD + plotH + B;
  cv.style.left = (colLeft[p.col] - LPAD) + 'px';
  cv.style.top = (rowTop[p.row] - TPAD) + 'px';
  fig.appendChild(cv);

  const tickFont = { family: FONT, size: 24 };
  const titleFont = { family: FONT, size: 26 };
  new Chart(cv, {
    type: 'line',
    data: { datasets: buildDatasets(p) },
    options: {
      responsive: false, animation: false, devicePixelRatio: 1,
      layout: { padding: { left: 0, top: 0, right: RPAD, bottom: 0 } },
      plugins: {
        legend: { display: false }, tooltip: { enabled: false },
        title: { display: true, text: p.title, fullSize: false, color: '#000',
          font: { family: FONT, size: 26, weight: 'normal' }, padding: { top: 13, bottom: 0.8 } },
        box: { width: 3 }
      },
      scales: {
        x: {
          type: 'linear', min: p.x[0], max: p.x[1],
          afterBuildTicks: s => { s.ticks = p.xTicks.map(v => ({ value: v })); },
          afterFit: s => { s.height = B; },
          ticks: { font: tickFont, color: '#000', padding: 3, maxRotation: 0, autoSkip: false, callback: v => String(v) },
          grid: { color: '#000', lineWidth: 2, drawTicks: false },
          border: { display: false, dash: [2, 26] },
          title: { display: !!p.xTitle, text: p.xTitle || '', font: titleFont, color: '#000', padding: { top: 0, bottom: 11 } }
        },
        y: {
          type: 'linear', min: p.y[0], max: p.y[1],
          afterBuildTicks: s => { s.ticks = p.yTicks.map(v => ({ value: v })); },
          afterFit: s => { s.width = LPAD; },
          ticks: { font: tickFont, color: '#000', padding: 8, autoSkip: false,
            callback: v => (p.yLab && !p.yLab.includes(v)) ? '' : String(v) },
          grid: { color: '#000', lineWidth: 2, drawTicks: false },
          border: { display: false, dash: [2, 26] },
          title: { display: true, text: p.yTitle, font: titleFont, color: '#000',
            padding: { top: LPAD - p.yOff - 15.6, bottom: 0 } }
        }
      }
    },
    plugins: [boxPlugin]
  });
}

panels.forEach(makePanel);

// ---------- colour bar ----------
(function () {
  const cv = document.createElement('canvas');
  cv.width = 1100; cv.height = 19 + 80;
  cv.style.left = '60px'; cv.style.top = '1196px';
  fig.appendChild(cv);
  new Chart(cv, {
    type: 'bar',
    data: {
      labels: [''],
      datasets: [{
        data: [[offsetTicks[0], offsetTicks[offsetTicks.length - 1]]],
        borderWidth: 0, barPercentage: 1, categoryPercentage: 1,
        backgroundColor: ctx => {
          const a = ctx.chart.chartArea;
          if (!a) return '#2e3192';
          const g = ctx.chart.ctx.createLinearGradient(a.left, 0, a.right, 0);
          cmapStops.forEach(([mm, col]) => g.addColorStop((mm - 6) / 114, col));
          return g;
        }
      }]
    },
    options: {
      indexAxis: 'y', responsive: false, animation: false, devicePixelRatio: 1,
      layout: { padding: { left: 40, right: 40, top: 0, bottom: 0 } },
      plugins: { legend: { display: false }, tooltip: { enabled: false }, box: { width: 1.5 } },
      scales: {
        x: {
          type: 'linear', min: 6, max: 120,
          afterBuildTicks: s => { s.ticks = offsetTicks.map(v => ({ value: v })); },
          afterFit: s => { s.height = 80; },
          grid: { display: false, drawTicks: false }, border: { display: false },
          ticks: { font: { family: FONT, size: 26 }, color: '#000', padding: 2, maxRotation: 0, autoSkip: false },
          title: { display: true, text: 'Offset (mm)', font: { family: FONT, size: 26 }, color: '#000', padding: { top: 0, bottom: 17 } }
        },
        y: { display: false }
      }
    },
    plugins: [boxPlugin]
  });
})();
</script>
</body>
</html>
